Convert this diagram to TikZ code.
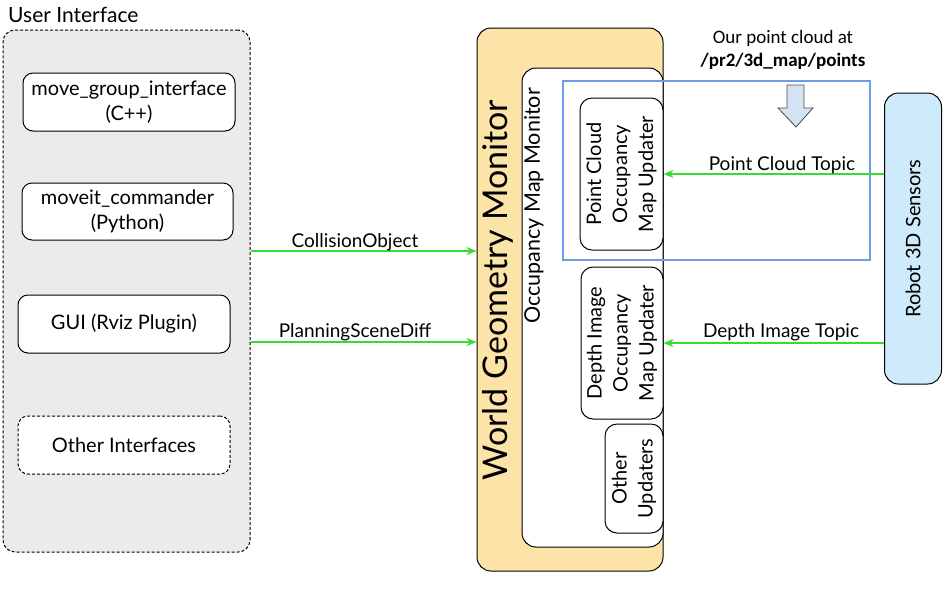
\documentclass[tikz,border=0pt]{standalone}
\usepackage{fontspec}
\setmainfont{Lato}
\newfontfamily\calfont{Carlito}
\usetikzlibrary{arrows.meta}
\definecolor{uigray}{HTML}{EBEBEB}
\definecolor{wgmfill}{HTML}{FCE4A8}
\definecolor{robfill}{HTML}{CDEBFA}
\definecolor{arrgreen}{HTML}{33DD33}
\definecolor{hlblue}{HTML}{6F9CE8}
\definecolor{blockfill}{HTML}{D4E3F3}
\tikzset{
  bx/.style={draw=black, line width=1pt, rounded corners=10pt, inner sep=0pt, align=center},
  uibox/.style={bx, fill=white, minimum width=212pt, minimum height=58pt, font=\fontsize{20}{25}\selectfont},
  upd/.style={bx, fill=white, rounded corners=12pt},
  updtext/.style={rotate=90, align=center, inner sep=0pt, font=\fontsize{20}{26}\selectfont},
  lbl/.style={anchor=base, inner sep=0pt, font=\fontsize{19}{23}\selectfont},
  flow/.style={draw=arrgreen, line width=2.5pt, -{Stealth[length=10pt,width=8pt]}},
}
\begin{document}
\begin{tikzpicture}[x=1pt,y=-1pt]
\path[use as bounding box] (0,0) rectangle (952,590);

% User interface group
\node[bx, draw=black, dash pattern=on 3pt off 2pt, fill=uigray, rounded corners=12pt, minimum width=247pt, minimum height=522pt] (ui) at (126.5,291) {};
\node[anchor=base west, inner sep=0pt, font=\fontsize{21}{25}\selectfont] (uititle) at (8,22) {User Interface};
\node[uibox] (mgi) at (129,102) {move\_group\_interface\\(C++)};
\node[uibox, minimum width=211pt, minimum height=57pt] (mc) at (127.5,211.5) {moveit\_commander\\(Python)};
\node[uibox] (gui) at (124,324) {GUI (Rviz Plugin)};
\node[uibox, dash pattern=on 3pt off 2pt] (oi) at (124,445) {Other Interfaces};

% World geometry monitor
\node[bx, fill=wgmfill, rounded corners=14pt, minimum width=186pt, minimum height=543pt] (wgm) at (570,299.5) {};
\node[rotate=90, inner sep=0pt, font=\fontsize{34}{40}\selectfont] (wgmt) at (498,290) {World Geometry Monitor};
\node[bx, fill=white, rounded corners=14pt, minimum width=141pt, minimum height=479pt] (omm) at (592.5,307.5) {};
\node[rotate=90, anchor=north east, inner sep=0pt, font=\fontsize{21.5}{26}\selectfont] (ommt) at (524,88) {Occupancy Map Monitor};

% updaters
\node[upd, minimum width=83pt, minimum height=152pt] (pc) at (621.5,174) {};
\node[updtext] at (pc.center) {Point Cloud\\Occupancy\\Map Updater};
\node[upd, minimum width=82pt, minimum height=152pt] (di) at (622,343) {};
\node[updtext] at (di.center) {Depth Image\\Occupancy\\Map Updater};
\node[upd, minimum width=58pt, minimum height=109pt] (ou) at (634,478.5) {};
\node[updtext] at (ou.center) {Other\\Updaters};

% robot sensors
\node[bx, fill=robfill, rounded corners=14pt, minimum width=57pt, minimum height=291pt] (rob) at (913,238.5) {};
\node[rotate=90, inner sep=0pt, font=\fontsize{20}{24}\selectfont] (robt) at (rob.center) {Robot 3D Sensors};

% highlight
\node[draw=hlblue, line width=2.5pt, minimum width=307pt, minimum height=179pt, inner sep=0pt] (hl) at (716.5,170.5) {};
\node[anchor=base, inner sep=0pt, font=\calfont\fontsize{19}{23}\selectfont] (note1) at (783,43) {Our point cloud at};
\node[anchor=base, inner sep=0pt, font=\calfont\bfseries\fontsize{19}{23}\selectfont] (note2) at (783,66) {/pr2/3d\_map/points};
\filldraw[fill=blockfill, draw=black!70, line width=0.8pt] (787,85) -- (804,85) -- (804,108) -- (813,108) -- (796,127) -- (778,108) -- (787,108) -- cycle;

% connectors
\coordinate (c1) at (0,251);
\coordinate (c2) at (0,342);
\draw[flow] (ui.east |- c1) -- (wgm.west |- c1);
\draw[flow] (ui.east |- c2) -- (wgm.west |- c2);
\node[lbl] (l1) at (355,247) {CollisionObject};
\node[lbl] (l2) at (355,337) {PlanningSceneDiff};
\draw[flow] (rob.west |- pc.east) -- (pc.east);
\draw[flow] (rob.west |- di.east) -- (di.east);
\node[lbl] (l3) at (782,170) {Point Cloud Topic};
\node[lbl] (l4) at (781,337) {Depth Image Topic};
\end{tikzpicture}
\end{document}
